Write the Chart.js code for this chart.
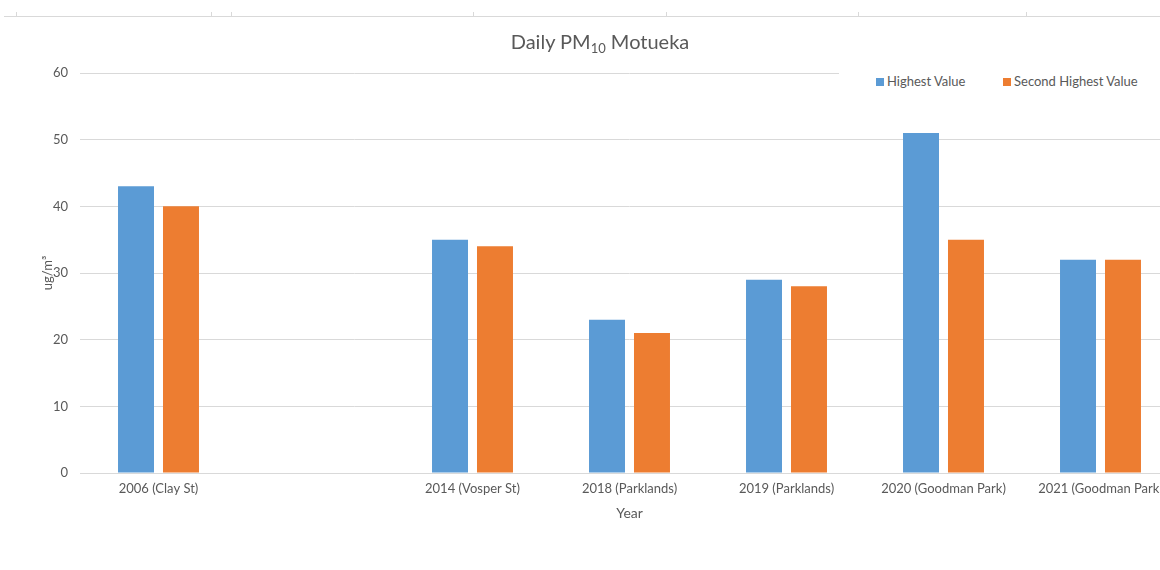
<!DOCTYPE html>
<html>
<head>
<meta charset="utf-8">
<script src="https://cdn.jsdelivr.net/npm/chart.js@4/dist/chart.umd.min.js"></script>
<style>
  html, body { margin: 0; padding: 0; background: #fff; overflow: hidden; }
  #wrap { position: relative; width: 1160px; height: 570px; overflow: hidden; font-family: Lato, sans-serif; }
  #chartBox { position: absolute; left: 0; top: 0; width: 1180px; height: 570px; }
  #topLine { position: absolute; left: 4px; top: 16px; width: 1156px; height: 1px; background: #d9d9d9; }
  .tick { position: absolute; top: 12px; width: 1px; height: 4px; background: #d9d9d9; }
  #title { position: absolute; left: 0; width: 1200px; top: 29px; text-align: center; font-size: 20px; color: #595959; }
  #title sub { font-size: 13px; vertical-align: -4px; line-height: 0; }
  #legend { position: absolute; left: 839px; top: 66px; width: 321px; height: 30px; background: #fff; font-size: 13px; color: #595959; }
  .item { position: absolute; top: 7px; white-space: nowrap; }
  .item span { display: inline-block; width: 8px; height: 8px; margin-right: 3px; vertical-align: 0px; }
</style>
</head>
<body>
<div id="wrap">
  <div id="topLine"></div>
  <div class="tick" style="left:16px"></div>
  <div class="tick" style="left:211px"></div>
  <div class="tick" style="left:231px"></div>
  <div class="tick" style="left:473px"></div>
  <div class="tick" style="left:666px"></div>
  <div class="tick" style="left:858px"></div>
  <div class="tick" style="left:1026px"></div>
  <div id="chartBox"><canvas id="pmChart" width="1180" height="570"></canvas></div>
  <div id="title">Daily PM<sub>10</sub> Motueka</div>
  <div id="legend"></div>
</div>
<script>
const categories = ['2006 (Clay St)', '', '2014 (Vosper St)', '2018 (Parklands)', '2019 (Parklands)', '2020 (Goodman Park)', '2021 (Goodman Park)'];
const highestValue = [43, null, 35, 23, 29, 51, 32];
const secondHighestValue = [40, null, 34, 21, 28, 35, 32];
const yTicks = [0, 10, 20, 30, 40, 50, 60];

const seriesNames = ['Highest Value', 'Second Highest Value'];
const seriesColors = ['#5B9BD5', '#ED7D31'];

const labelColor = '#595959';
const gridColor = '#d9d9d9';

// Legend drawn as html so it can sit over the plot like the original
const legend = document.getElementById('legend');
const legendLeft = [37, 164];
seriesNames.forEach((name, i) => {
    const item = document.createElement('div');
    item.className = 'item';
    item.style.left = legendLeft[i] + 'px';
    item.innerHTML = '<span style="background:' + seriesColors[i] + '"></span>' + name;
    legend.appendChild(item);
});

const ctx = document.getElementById('pmChart').getContext('2d');
new Chart(ctx, {
    type: 'bar',
    data: {
        labels: categories,
        datasets: [
            { label: seriesNames[0], data: highestValue, backgroundColor: seriesColors[0] },
            { label: seriesNames[1], data: secondHighestValue, backgroundColor: seriesColors[1] }
        ]
    },
    options: {
        responsive: false,
        animation: false,
        categoryPercentage: 0.573,
        barPercentage: 0.8,
        layout: { padding: { left: 36, right: 1, top: 73, bottom: 44 } },
        plugins: {
            legend: { display: false },
            title: { display: false },
            tooltip: { enabled: false }
        },
        scales: {
            x: {
                grid: { display: false, drawTicks: false },
                border: { color: gridColor, width: 1 },
                ticks: { color: labelColor, font: { family: 'Lato', size: 13 }, padding: 8, maxRotation: 0, autoSkip: false },
                title: { display: true, text: 'Year', color: labelColor, font: { family: 'Lato', size: 14 }, padding: { top: 4, bottom: 4 } },
                afterFit(scale) { scale.height = 53; }
            },
            y: {
                min: 0,
                max: 60,
                afterBuildTicks(scale) { scale.ticks = yTicks.map(v => ({ value: v })); },
                grid: { color: gridColor, drawTicks: false },
                border: { display: false },
                ticks: { color: labelColor, font: { family: 'Lato', size: 13 }, padding: 12 },
                title: { display: true, text: 'ug/m³', color: labelColor, font: { family: 'Lato', size: 13 }, padding: { top: 4, bottom: 4 } },
                afterFit(scale) { scale.width = 44; }
            }
        }
    }
});
</script>
</body>
</html>
